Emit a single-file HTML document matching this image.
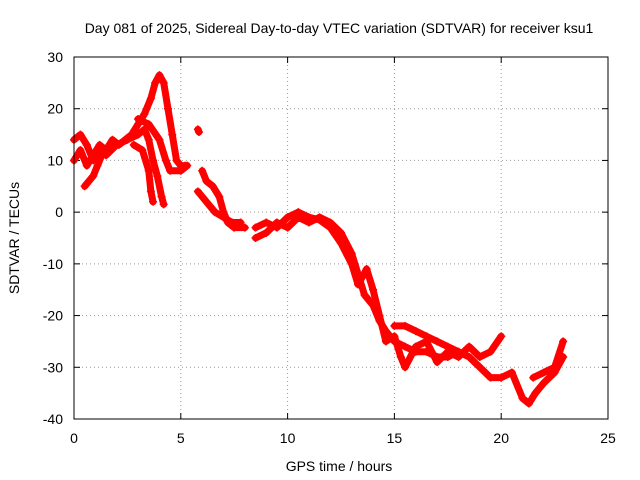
<!DOCTYPE html>
<html><head><meta charset="utf-8"><style>
body{margin:0;background:#fff}
svg{display:block;font-family:"Liberation Sans",sans-serif;font-size:14px}
</style></head><body>
<svg id="chart" width="640" height="480" viewBox="0 0 640 480">
<rect width="640" height="480" fill="#fff"/>
<text x="339" y="33" text-anchor="middle">Day 081 of 2025, Sidereal Day-to-day VTEC variation (SDTVAR) for receiver ksu1</text>
<g id="grid"></g>
<g id="ticks"></g>
<g id="series"></g>
<rect x="74" y="57" width="534" height="362" fill="none" stroke="#000" stroke-width="1"/>
<text x="339" y="471" text-anchor="middle">GPS time / hours</text>
<text transform="translate(19,238) rotate(-90)" text-anchor="middle">SDTVAR / TECUs</text>
</svg>
<script>
const xTicks=[0,5,10,15,20,25];
const yTicks=[30,20,10,0,-10,-20,-30,-40];
const trackA=[[0,10],[0.3,12],[0.6,9],[0.9,11],[1.2,13],[1.5,12],[1.8,14],[2.1,13],[2.4,14],[2.7,15],[3.0,17],[3.3,19],[3.6,22],[3.8,25],[4.0,26.5],[4.2,25],[4.4,20],[4.6,15],[4.8,10],[5.0,9],[5.2,9]];
const trackB=[[0,14],[0.3,15],[0.6,13],[0.9,10],[1.2,12],[1.5,11],[2,13],[2.5,14],[3,15],[3.3,16],[3.5,14],[3.7,10],[3.9,7],[4.1,3],[4.2,1.5]];
const trackC=[[0.5,5],[0.9,7],[1.1,9],[1.3,11]];
const trackC2=[[2.8,13],[3.2,12],[3.5,8],[3.6,4],[3.7,2]];
const trackD=[[3,18],[3.5,17],[4,14],[4.3,10],[4.5,8],[5,8],[5.3,9]];
const trackE=[[6,8],[6.2,6],[6.5,5],[6.8,3],[7,0],[7.2,-2],[7.5,-3],[8,-3]];
const trackE2=[[5.8,16],[5.85,15.5]];
const trackF=[[5.8,4],[6.2,2],[6.6,0],[7,-1],[7.4,-2],[7.8,-2]];
const trackG=[[8.5,-5],[9,-4],[9.5,-2],[10,-3],[10.5,-1],[11,-2],[11.5,-1],[12,-2],[12.5,-4],[13,-8],[13.3,-12],[13.6,-16],[14,-18],[14.3,-21],[14.6,-23],[15,-25],[15.5,-26],[16,-27],[16.5,-27],[17,-28],[17.5,-28],[18,-27],[18.5,-28],[19,-30],[19.5,-32],[20,-32],[20.5,-31],[21,-36],[21.3,-37],[21.6,-35],[22,-33],[22.5,-31],[22.9,-28]];
const trackH=[[8.5,-3],[9,-2],[9.5,-3],[10,-1],[10.5,0],[11,-1],[11.5,-1.5],[12,-3],[12.5,-6],[13,-10],[13.3,-14],[13.7,-11],[14,-15],[14.3,-20],[14.6,-25],[15,-24],[15.3,-28],[15.5,-30],[16,-26],[16.5,-25],[17,-29],[17.5,-27],[18,-28],[18.5,-26],[19,-28],[19.5,-27],[20,-24]];
const trackI=[[15,-22],[15.5,-22],[16,-23],[16.5,-24],[17,-25],[17.5,-26],[18,-27]];
const trackI2=[[21.5,-32],[22,-31],[22.5,-30],[22.9,-25]];
const tracks=[trackA,trackB,trackC,trackC2,trackD,trackE,trackE2,trackF,trackG,trackH,trackI,trackI2];
const X=v=>74+v*(534/25), Y=v=>57+(30-v)*(362/70);
const NS='http://www.w3.org/2000/svg';
const grid=document.getElementById('grid'),ticks=document.getElementById('ticks'),ser=document.getElementById('series');
function mk(t,a,p){const e=document.createElementNS(NS,t);for(const k in a)e.setAttribute(k,a[k]);p.appendChild(e);return e;}
xTicks.forEach(v=>{
 const x=X(v);
 if(v>0&&v<25){const g=mk('line',{x1:x,x2:x,y1:57,y2:419,stroke:'#999','stroke-dasharray':'1,3'},grid);
 
 }
 mk('line',{x1:x,x2:x,y1:419,y2:413,stroke:'#000'},ticks);mk('line',{x1:x,x2:x,y1:57,y2:63,stroke:'#000'},ticks);
 const t=mk('text',{x:x,y:443,'text-anchor':'middle'},ticks);t.textContent=v;
 
 
});
yTicks.forEach(v=>{
 const y=Y(v);
 if(v<30&&v>-40){const g=mk('line',{x1:74,x2:608,y1:y,y2:y,stroke:'#999','stroke-dasharray':'1,3'},grid);
 
 }
 mk('line',{x1:74,x2:80,y1:y,y2:y,stroke:'#000'},ticks);mk('line',{x1:608,x2:602,y1:y,y2:y,stroke:'#000'},ticks);
 const t=mk('text',{x:63,y:y+5,'text-anchor':'end'},ticks);t.textContent=v;
 
 
});
tracks.forEach(tr=>{
 const pl=mk('polyline',{points:tr.map(p=>X(p[0])+','+Y(p[1])).join(' '),fill:'none',stroke:'#f00','stroke-width':7,'stroke-linejoin':'round','stroke-linecap':'round'},ser);
 
 
 tr.forEach(p=>{const x=X(p[0]),y=Y(p[1]);
  const m=mk('path',{d:`M${x-4},${y}H${x+4}M${x},${y-4}V${y+4}`,stroke:'#f00','stroke-width':1.5},ser);
  
  
 });
});
</script>
</body></html>
